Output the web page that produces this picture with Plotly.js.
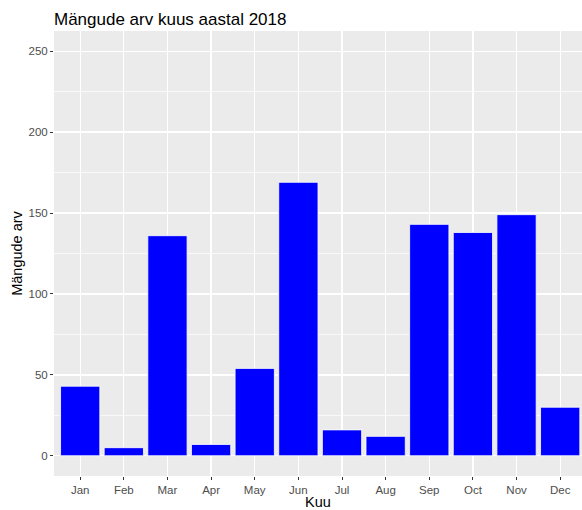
<!DOCTYPE html>
<html>
<head>
<meta charset="utf-8">
<script src="https://cdn.plot.ly/plotly-3.0.1.min.js"></script>
<style>
  html, body { margin: 0; padding: 0; background: #fff; }
  #chart { width: 582px; height: 510px; }
</style>
</head>
<body>
<div id="chart"></div>
<script>
const months = ["Jan", "Feb", "Mar", "Apr", "May", "Jun", "Jul", "Aug", "Sep", "Oct", "Nov", "Dec"];
const games = [43, 5, 136, 7, 54, 169, 16, 12, 143, 138, 149, 30];
const yTicks = [0, 50, 100, 150, 200, 250];

const chartDiv = document.getElementById("chart");

var trace = {
    type: "bar",
    x: months,
    y: games,
    width: 0.9,
    marker: {color: "#0000FF", line: {color: "#FFFFFF", width: 0.8}},
    hoverinfo: "x+y"
};

var layout = {
    width: 582,
    height: 510,
    margin: {l: 54, r: 0, t: 31, b: 34},
    paper_bgcolor: "#FFFFFF",
    plot_bgcolor: "#EBEBEB",
    font: {family: "Liberation Sans, Arial, sans-serif", color: "#000000"},
    showlegend: false,
    title: {
        text: "Mängude arv kuus aastal 2018",
        font: {size: 17, color: "#000000"},
        x: 0, xref: "paper", xanchor: "left",
        y: 1, yref: "paper", yanchor: "bottom",
        pad: {b: 6}
    },
    xaxis: {
        type: "category",
        categoryorder: "array",
        categoryarray: months,
        range: [-0.6, 11.5],
        showgrid: true,
        gridcolor: "#FFFFFF",
        gridwidth: 1.3,
        zeroline: false,
        showline: false,
        ticks: "outside",
        ticklen: 3,
        tickwidth: 1,
        tickcolor: "#333333",
        tickfont: {size: 11.5, color: "#4D4D4D"},
        title: {text: "Kuu", font: {size: 14.5, color: "#000000"}, standoff: 3}
    },
    yaxis: {
        range: [-12.5, 262.5],
        tickvals: yTicks,
        ticktext: yTicks.map(String),
        showgrid: true,
        gridcolor: "#FFFFFF",
        gridwidth: 1.3,
        minor: {dtick: 25, tick0: 0, showgrid: true, gridcolor: "#FFFFFF", gridwidth: 0.7, ticks: ""},
        zeroline: false,
        showline: false,
        ticks: "outside",
        ticklen: 3,
        tickwidth: 1,
        tickcolor: "#333333",
        tickfont: {size: 11.5, color: "#4D4D4D"},
        title: {text: "Mängude arv", font: {size: 14.5, color: "#000000"}, standoff: 2}
    }
};

Plotly.newPlot(chartDiv, [trace], layout, {displayModeBar: false, staticPlot: true});
</script>
</body>
</html>
